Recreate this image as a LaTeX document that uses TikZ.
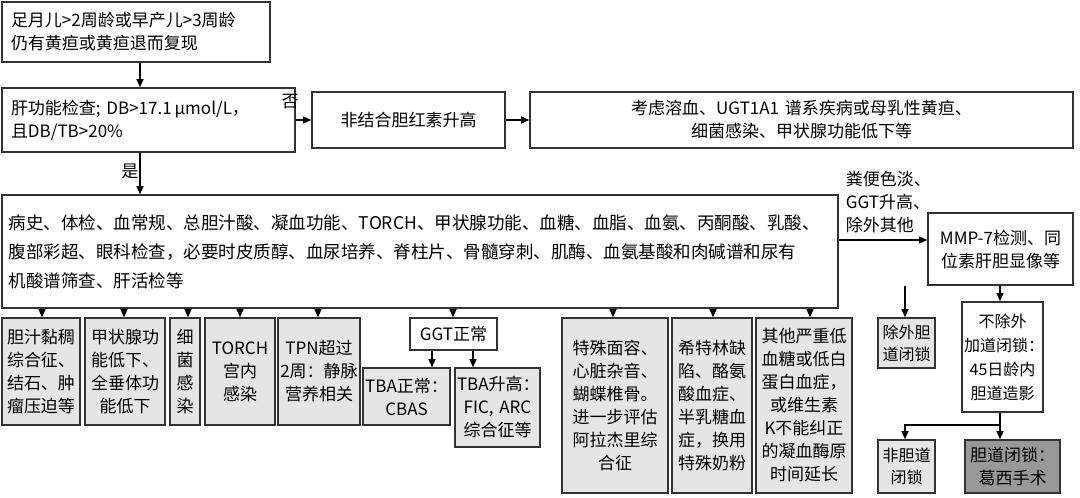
\documentclass[tikz,border=0pt]{standalone}
\usepackage{fontspec}
\setmainfont{Noto Sans CJK SC}
\usetikzlibrary{arrows.meta}
\begin{document}
\begin{tikzpicture}[x=1pt,y=-1pt,
  bx/.style={draw=black!80,line width=1.6pt,inner sep=1pt,font=\fontsize{17}{23}\selectfont,align=center},
  gbx/.style={bx,fill=black!10},
  dbx/.style={bx,fill=black!40},
  ar/.style={-{Triangle[length=8pt,width=7pt]},line width=1.2pt},
  lb/.style={font=\fontsize{17}{23}\selectfont,inner sep=1pt}]
\useasboundingbox (0,0) rectangle (1080,498);
\newcommand\B[6]{\node[#1,minimum width=#4-#2,minimum height=#5-#3,text width=#4-#2-4] (#6) at ({(#2+#4)/2},{(#3+#5)/2}) }
\B{bx}{2}{2}{270}{62}{a}[align=left,text width=250]{足月儿>2周龄或早产儿>3周龄\\仍有黄疸或黄疸退而复现};
\B{bx}{2}{88}{295}{152}{b}[align=left,text width=275]{肝功能检查; DB>17.1\,μmol/L，\\且DB/TB>20\%};
\B{bx}{312}{92}{505}{148}{c}{非结合胆红素升高};
\B{bx}{530}{92}{1073}{148}{d}{考虑溶血、UGT1A1 谱系疾病或母乳性黄疸、\\细菌感染、甲状腺功能低下等};
\B{bx}{2}{195}{838}{308}{e}[align=left,text width=822,font=\fontsize{17.5}{29}\selectfont]{病史、体检、血常规、总胆汁酸、凝血功能、TORCH、甲状腺功能、血糖、血脂、血氨、丙酮酸、乳酸、\\腹部彩超、眼科检查，必要时皮质醇、血尿培养、脊柱片、骨髓穿刺、肌酶、血氨基酸和肉碱谱和尿有\\机酸谱筛查、肝活检等};
\B{bx}{928}{213}{1073}{285}{f}{MMP-7检测、同\\位素肝胆显像等};
\B{gbx}{2}{318}{80}{425}{g1}{胆汁黏稠\\综合征、\\结石、肿\\瘤压迫等};
\B{gbx}{85}{318}{165}{425}{g2}{甲状腺功\\能低下、\\全垂体功\\能低下};
\B{gbx}{170}{318}{200}{425}{g3}{细\\菌\\感\\染};
\B{gbx}{205}{318}{275}{425}{g4}{TORCH\\宫内\\感染};
\B{gbx}{278}{318}{360}{425}{g5}{TPN超过\\2周：静脉\\营养相关};
\B{bx}{410}{318}{497}{350}{h}{GGT正常};
\B{gbx}{363}{368}{450}{425}{h1}{TBA正常：\\CBAS};
\B{gbx}{455}{368}{540}{447}{h2}{TBA升高：\\FIC, ARC\\综合征等};
\B{gbx}{562}{318}{668}{493}{g6}{特殊面容、\\心脏杂音、\\蝴蝶椎骨。\\进一步评估\\阿拉杰里综\\合征};
\B{gbx}{672}{318}{752}{493}{g7}{希特林缺\\陷、酪氨\\酸血症、\\半乳糖血\\症，换用\\特殊奶粉};
\B{gbx}{756}{318}{852}{493}{g8}{其他严重低\\血糖或低白\\蛋白血症，\\或维生素\\K不能纠正\\的凝血酶原\\时间延长};
\B{gbx}{878}{318}{935}{368}{i1}[font=\fontsize{16}{22}\selectfont]{除外胆\\道闭锁};
\B{bx}{962}{302}{1043}{412}{i2}[font=\fontsize{16}{24}\selectfont]{不除外\\加道闭锁：\\45日龄内\\胆道造影};
\B{gbx}{878}{440}{935}{493}{j1}[font=\fontsize{16}{22}\selectfont]{非胆道\\闭锁};
\B{dbx}{965}{440}{1060}{493}{j2}{胆道闭锁：\\葛西手术};
\draw[ar] (a.south -| 140,0) -- (b.north -| 140,0);
\draw[ar] (b) -- (c);
\node[lb] (no) at (290,102) {否};
\draw[ar] (c) -- (d);
\draw[ar] (b.south -| 140,0) -- node[lb,left,pos=0.45]{是} (e.north -| 140,0);
\draw[ar] (e.east |- 0,240) -- (f.west |- 0,240);
\node[lb,align=left,anchor=south east] (lab) at (932,234) {粪便色淡、\\GGT升高、\\除外其他};
\foreach \n/\x in {g1/42,g2/124,g3/188,g4/240,g5/318,h/453,g6/613,g7/713,g8/810}
  \draw[ar] (e.south -| \x,0) -- (\n.north -| \x,0);
\draw[ar] (h.south -| 432,0) -- (h1.north -| 432,0);
\draw[ar] (h.south -| 473,0) -- (h2.north -| 473,0);
\draw[ar] (f.south -| 905,0) -- (i1.north -| 905,0);
\draw[ar] (f.south -| 1000,0) -- (i2.north -| 1000,0);
\draw[ar] (i2.south -| 1000,0) -- (j2.north -| 1000,0);
\draw[ar] (i2.south -| 1000,0) -- (1000,425) -- (905,425) -- (j1.north -| 905,0);
\end{tikzpicture}
\end{document}
